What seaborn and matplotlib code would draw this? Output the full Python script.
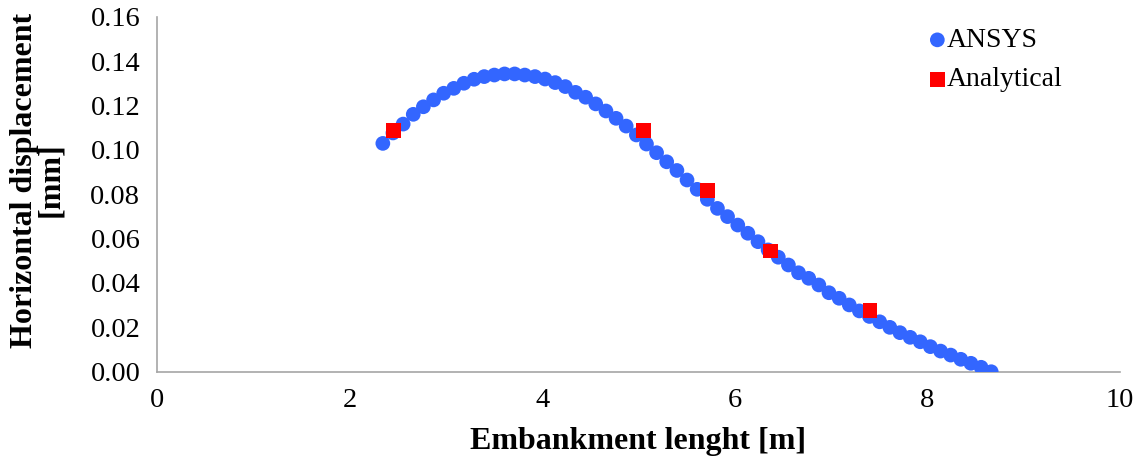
import numpy as np
import pandas as pd
import matplotlib
matplotlib.use("Agg")
import matplotlib.pyplot as plt
import seaborn as sns

# ANSYS results
ansys_x = [2.345, 2.450, 2.556, 2.661, 2.766, 2.872, 2.977, 3.082, 3.187, 3.293,
           3.398, 3.503, 3.609, 3.714, 3.819, 3.925, 4.030, 4.135, 4.240, 4.346,
           4.451, 4.556, 4.662, 4.767, 4.872, 4.978, 5.083, 5.188, 5.293, 5.399,
           5.504, 5.609, 5.715, 5.820, 5.925, 6.031, 6.136, 6.241, 6.346, 6.452,
           6.557, 6.662, 6.768, 6.873, 6.978, 7.084, 7.189, 7.294, 7.399, 7.505,
           7.610, 7.715, 7.821, 7.926, 8.031, 8.137, 8.242, 8.347, 8.452, 8.558,
           8.663]
ansys_y = [0.1029, 0.1076, 0.1116, 0.1160, 0.1194, 0.1225, 0.1255, 0.1277, 0.1300, 0.1318,
           0.1330, 0.1337, 0.1342, 0.1342, 0.1337, 0.1330, 0.1319, 0.1303, 0.1285, 0.1259,
           0.1237, 0.1207, 0.1175, 0.1142, 0.1107, 0.1067, 0.1026, 0.0987, 0.0946, 0.0907,
           0.0864, 0.0822, 0.0777, 0.0736, 0.0699, 0.0661, 0.0624, 0.0586, 0.0549, 0.0516,
           0.0481, 0.0446, 0.0421, 0.0391, 0.0356, 0.0331, 0.0301, 0.0274, 0.0249, 0.0225,
           0.0200, 0.0176, 0.0155, 0.0135, 0.0113, 0.0093, 0.0075, 0.0056, 0.0038, 0.0020,
           0.0000]

# Analytical results
anal_x = [2.454, 5.050, 5.714, 6.373, 7.404]
anal_y = [0.1086, 0.1086, 0.0816, 0.0544, 0.0274]

x_ticks = [0, 2, 4, 6, 8, 10]
y_ticks = [0.00, 0.02, 0.04, 0.06, 0.08, 0.10, 0.12, 0.14, 0.16]

sns.set_style("white")
plt.rcParams["font.family"] = ["Liberation Serif", "DejaVu Serif"]
plt.rcParams["text.color"] = "black"
plt.rcParams["axes.labelcolor"] = "black"

fig = plt.figure(figsize=(11.42, 4.70), dpi=100)
ax = fig.add_axes([0.1375, 0.2091, 0.8432, 0.7554])

df_a = pd.DataFrame({"x": ansys_x, "y": ansys_y})
df_b = pd.DataFrame({"x": anal_x, "y": anal_y})

sns.scatterplot(data=df_a, x="x", y="y", ax=ax, marker="o", s=112,
                color="#3366FF", edgecolor="none", label="ANSYS", zorder=3)
sns.scatterplot(data=df_b, x="x", y="y", ax=ax, marker="s", s=115,
                color="#FF0000", edgecolor="none", label="Analytical", zorder=4)

ax.set_xlim(0, 10)
ax.set_ylim(0, 0.16)
ax.set_xticks(x_ticks)
ax.set_yticks(y_ticks)
ax.set_xticklabels([str(t) for t in x_ticks])
ax.set_yticklabels([f"{t:.2f}" for t in y_ticks])

for s in ["top", "right"]:
    ax.spines[s].set_visible(False)
for s in ["left", "bottom"]:
    ax.spines[s].set_color("#A6A6A6")
    ax.spines[s].set_linewidth(1.2)

ax.tick_params(axis="both", which="major", direction="out", length=7, width=1.2,
               color="#A6A6A6", labelsize=20.5, labelcolor="black", pad=5)
ax.grid(False)

ax.set_xlabel("Embankment lenght [m]", fontsize=23, fontweight="bold", labelpad=10)
ax.set_ylabel("Horizontal displacement\n[mm]", fontsize=23, fontweight="bold",
              linespacing=0.85)
ax.yaxis.set_label_coords(-0.0955, 0.54)

leg = ax.legend(loc="upper left", frameon=False, fontsize=20, handletextpad=0.05,
                handlelength=0.6, borderaxespad=0.0, borderpad=0.0,
                labelspacing=0.5, bbox_to_anchor=(0.8017, 0.969))

fig.savefig("out.png", dpi=100)
